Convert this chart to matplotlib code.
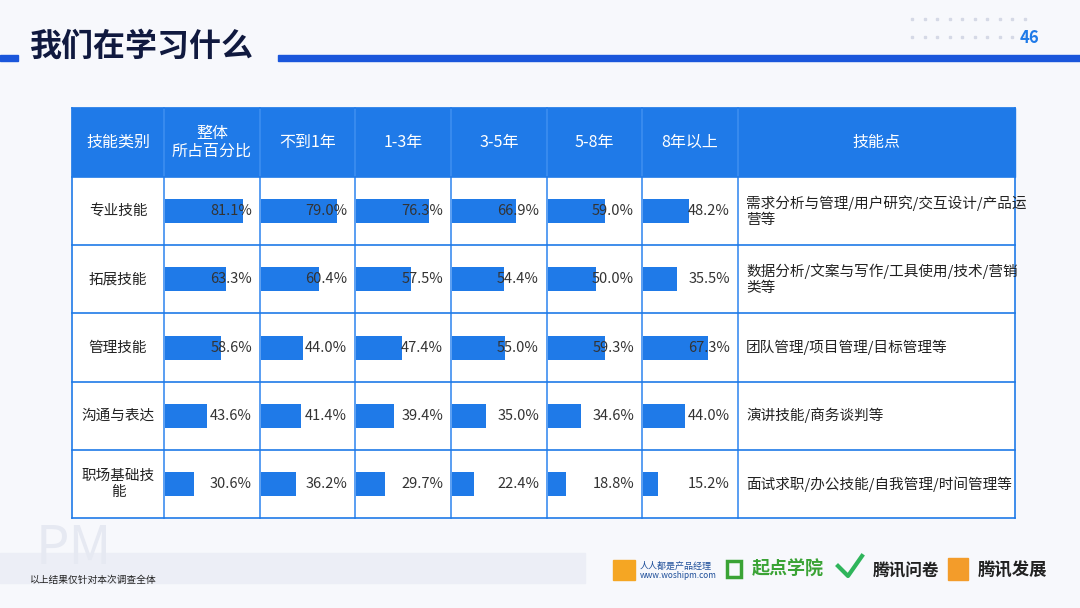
import matplotlib
matplotlib.use("Agg")
import matplotlib.pyplot as plt
from matplotlib.patches import Rectangle

plt.rcParams["font.family"] = "Noto Sans CJK SC"

categories = ["专业技能", "拓展技能", "管理技能", "沟通与表达", "职场基础技\n能"]
columns = ["整体\n所占百分比", "不到1年", "1-3年", "3-5年", "5-8年", "8年以上"]
values = [
    [81.1, 79.0, 76.3, 66.9, 59.0, 48.2],
    [63.3, 60.4, 57.5, 54.4, 50.0, 35.5],
    [58.6, 44.0, 47.4, 55.0, 59.3, 67.3],
    [43.6, 41.4, 39.4, 35.0, 34.6, 44.0],
    [30.6, 36.2, 29.7, 22.4, 18.8, 15.2],
]
skill_points = ["需求分析与管理/用户研究/交互设计/产品运\n营等",
                "数据分析/文案与写作/工具使用/技术/营销\n类等",
                "团队管理/项目管理/目标管理等",
                "演讲技能/商务谈判等",
                "面试求职/办公技能/自我管理/时间管理等"]

BLUE = "#1f7ae8"
BG = "#f7f8fc"
fig = plt.figure(figsize=(10.8, 6.08), dpi=100, facecolor=BG)
ax = fig.add_axes([0, 0, 1, 1])
ax.set_xlim(0, 1080); ax.set_ylim(608, 0); ax.axis("off")
ax.set_facecolor(BG)

# title
ax.text(30, 47, "我们在学习什么", fontsize=23, fontweight="bold", color="#10193f", va="center")
ax.add_patch(Rectangle((0, 55), 18, 6, color="#1a56db"))
ax.add_patch(Rectangle((278, 55), 802, 6, color="#1a56db"))
ax.text(1030, 38, "46", fontsize=12, color=BLUE, fontweight="bold", ha="center", va="center")
for yy in (19, 37):
    for k in range(10):
        ax.plot(912 + k * 12.5, yy, marker="s", ms=1.5, color="#d5d9e6")

# table geometry
xs = [72, 164, 260, 355, 451, 547, 642, 738, 1015]
y0, hh, rh = 108, 69, 68.2
ax.add_patch(Rectangle((xs[0], y0), xs[-1] - xs[0], hh, color=BLUE))
ax.add_patch(Rectangle((xs[0], y0 + hh), xs[-1] - xs[0], rh * 5, facecolor="white", edgecolor="none"))
headers = ["技能类别"] + columns + ["技能点"]
for i, h in enumerate(headers):
    ax.text((xs[i] + xs[i + 1]) / 2, y0 + hh / 2, h, color="white", fontsize=11.5,
            ha="center", va="center", linespacing=1.1)
for x in xs:
    ax.plot([x, x], [y0, y0 + hh + 5 * rh], color=BLUE if x in (xs[0], xs[-1]) else "#3d8ef0", lw=1.2)
for r in range(6):
    yy = y0 + hh + r * rh
    ax.plot([xs[0], xs[-1]], [yy, yy], color=BLUE, lw=1.2)
ax.plot([xs[0], xs[-1]], [y0, y0], color=BLUE, lw=1.2)

for r, cat in enumerate(categories):
    cy = y0 + hh + r * rh + rh / 2
    ax.text((xs[0] + xs[1]) / 2, cy, cat, fontsize=10.5, ha="center", va="center", color="#222",
            linespacing=1.2)
    for c, v in enumerate(values[r]):
        left = xs[c + 1] + 1
        ax.barh(cy, v / 100 * 96, left=left, height=24, color=BLUE)
        ax.text(xs[c + 2] - 8, cy, f"{v:.1f}%", fontsize=10.5, ha="right", va="center", color="#333")
    ax.text(xs[7] + 8, cy, skill_points[r], fontsize=10.5, ha="left", va="center", color="#222",
            linespacing=1.2, multialignment="left")

# footer
ax.add_patch(Rectangle((0, 553), 585, 30, color="#eceef6", zorder=0))
ax.text(36, 548, "PM", fontsize=38, color="#e6e9f2", va="center", zorder=0)
ax.text(30, 580, "以上结果仅针对本次调查全体", fontsize=7, color="#222", va="center", zorder=3)
ax.text(640, 566, "人人都是产品经理", fontsize=6.5, color="#1f4f9a", va="center")
ax.text(640, 576, "www.woshipm.com", fontsize=6, color="#1f4f9a", va="center")
ax.add_patch(Rectangle((613, 560), 22, 20, color="#f5a623"))
ax.add_patch(Rectangle((727, 561), 14, 16, facecolor="none", edgecolor="#3aa335", lw=2.5))
ax.text(752, 569, "起点学院", fontsize=13, color="#3aa335", fontweight="bold", va="center")
ax.plot([838, 848, 862], [566, 576, 556], color="#2fb55b", lw=3)
ax.text(873, 572, "腾讯问卷", fontsize=12, color="#222", fontweight="bold", va="center")
ax.add_patch(Rectangle((948, 558), 20, 22, color="#f39c2a"))
ax.text(978, 571, "腾讯发展", fontsize=12.5, color="#222", fontweight="bold", va="center")

fig.savefig("out.png", dpi=100, facecolor=BG)
